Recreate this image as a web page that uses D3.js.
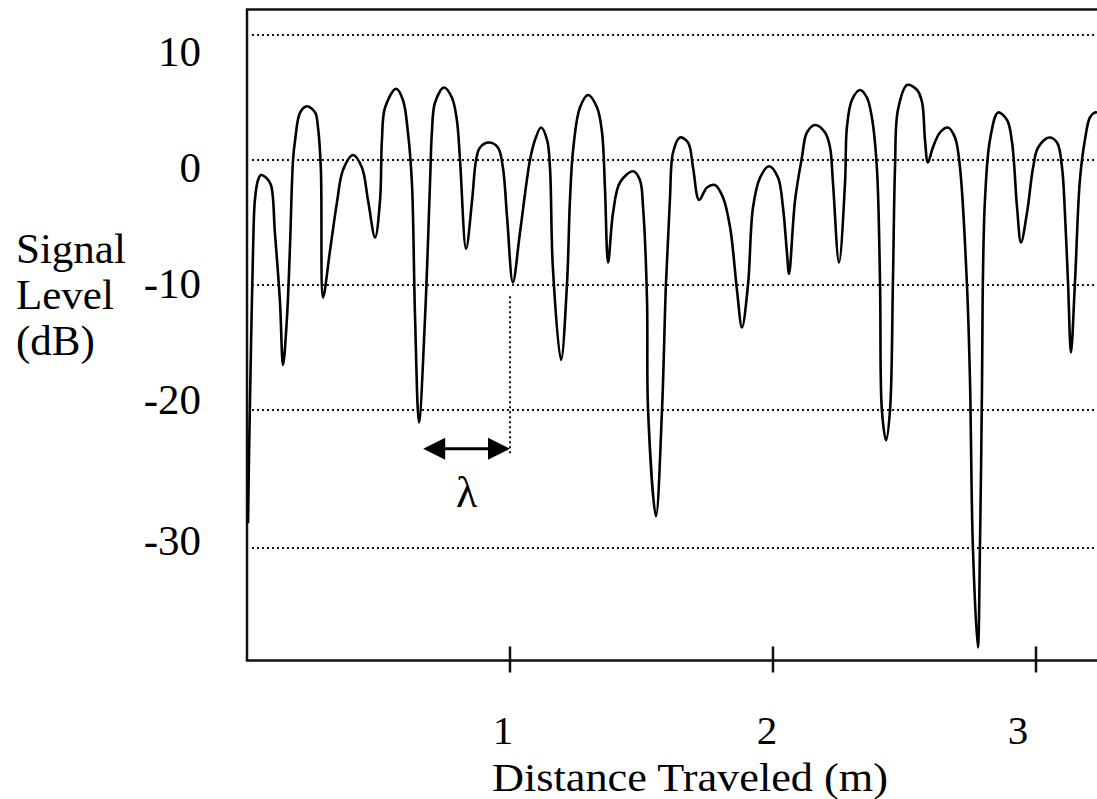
<!DOCTYPE html>
<html>
<head>
<meta charset="utf-8">
<script src="https://cdn.jsdelivr.net/npm/d3@7"></script>
<style>
  html, body { margin: 0; padding: 0; background: #fff; }
  svg { display: block; }
  text { font-family: "Liberation Serif", "Times New Roman", serif; fill: #000; }
</style>
</head>
<body>
<svg id="chart" width="1097" height="799"></svg>
<script>
// ---- data ----
const distance = [0.004,0.008,0.015,0.023,0.030,0.042,0.053,0.072,0.091,0.106,0.125,0.137,0.152,0.163,0.175,0.183,0.202,0.228,0.259,0.270,0.281,0.289,0.316,0.342,0.365,0.403,0.437,0.460,0.487,0.506,0.513,0.525,0.567,0.593,0.612,0.627,0.639,0.654,0.677,0.696,0.703,0.715,0.749,0.779,0.798,0.810,0.833,0.856,0.871,0.886,0.920,0.954,0.973,0.989,1.011,1.038,1.076,1.095,1.118,1.141,1.152,1.163,1.194,1.217,1.228,1.240,1.266,1.297,1.331,1.350,1.361,1.373,1.392,1.418,1.468,1.494,1.506,1.521,1.525,1.555,1.578,1.593,1.608,1.620,1.646,1.677,1.696,1.719,1.749,1.779,1.810,1.837,1.863,1.882,1.905,1.924,1.951,1.985,2.019,2.038,2.053,2.061,2.084,2.110,2.129,2.160,2.198,2.217,2.228,2.251,2.274,2.281,2.300,2.331,2.357,2.376,2.395,2.407,2.414,2.430,2.445,2.456,2.464,2.475,2.510,2.548,2.567,2.578,2.589,2.608,2.635,2.665,2.692,2.711,2.738,2.749,2.760,2.779,2.787,2.795,2.798,2.806,2.825,2.856,2.890,2.909,2.928,2.943,2.966,2.989,3.008,3.049,3.080,3.099,3.110,3.122,3.133,3.148,3.167,3.186,3.205,3.224,3.232];
const levelDb = [-28.2,-22.9,-15.2,-7.2,-3.2,-1.6,-1.2,-1.4,-2.0,-5.8,-11.2,-16.4,-12.6,-7.2,0,1.6,3.8,4.3,3.8,2.6,-0.8,-11.0,-7.2,-3.4,-0.8,0.4,-0.6,-3.2,-6.2,-3.2,1.6,4.2,5.7,4.8,2.2,-1.8,-12.6,-20.9,-12.6,-1.8,2.2,4.6,5.8,5.0,3.2,0,-7.1,-3.2,0,1.0,1.4,1.0,-0.6,-4.6,-9.8,-5.8,0,1.6,2.6,1.6,-0.6,-8.6,-16.0,-9.8,-3.2,0.8,4.2,5.2,4.2,2.2,-2.2,-8.2,-4.2,-1.8,-0.9,-1.6,-3.8,-11.2,-20.0,-27.7,-20.0,-9.9,-3.2,0.6,1.8,1.4,-0.6,-3.2,-2.2,-2.0,-3.0,-5.4,-10.4,-13.4,-10.0,-3.8,-1.4,-0.5,-1.4,-3.8,-7.4,-9.1,-3.2,0.2,2.2,2.8,2.2,1.0,-1.8,-8.2,-1.8,2.6,4.8,5.6,5.0,3.4,-0.6,-9.8,-20.0,-22.2,-20.0,-9.8,-0.6,4.0,6.0,5.6,4.6,1.6,-0.2,1.0,2.2,2.6,1.8,-0.6,-10.2,-17.6,-29.9,-37.2,-29.9,-17.6,-9.8,-3.2,1.6,3.8,3.2,1.4,-3.8,-6.6,-4.2,-0.6,1.0,1.8,1.4,-0.6,-4.2,-9.9,-15.4,-9.9,-1.6,1.6,3.4,3.8,3.8];

const yTicks = [10, 0, -10, -20, -30];
const xTicks = [1, 2, 3];
const yTitleLines = ["Signal", "Level", "(dB)"];
const xTitle = "Distance Traveled (m)";
const lambdaLabel = "λ";
const lambdaStart = 0.67;   // m
const lambdaEnd = 1.0;      // m
const lambdaLevel = -22.8;  // dB
const markerTop = -10.9;    // dB (dotted marker below the dip at 1 m)
const markerBottom = -23.3; // dB

(function () {
// ---- scales ----
const svg = d3.select("#chart");
const x = d3.scaleLinear().domain([0, 3.232]).range([247, 1097]);
// the printed grid is slightly uneven: piecewise linear
const y = d3.scaleLinear().domain([10, -20, -30]).range([35, 410, 548]);
const yLabelPos = d3.scaleLinear().domain([10, -20, -30]).range([66, 414, 555]);
const xLabelPos = d3.scaleLinear().domain([1, 2, 3]).range([503, 767, 1018]);

const yTop = 12.04, yBottom = -38.15;
const pLeft = x(0), pRight = x(3.232), pTop = y(yTop), pBottom = y(yBottom);

// clip
svg.append("defs").append("clipPath").attr("id", "plotclip")
  .append("rect").attr("x", pLeft).attr("y", pTop).attr("width", pRight - pLeft).attr("height", pBottom - pTop);

// gridlines
svg.append("g").selectAll("line").data(yTicks).join("line")
  .attr("x1", pLeft + 5).attr("x2", pRight)
  .attr("y1", d => y(d)).attr("y2", d => y(d))
  .attr("stroke", "#111").attr("stroke-width", 2)
  .attr("stroke-dasharray", "2,3");

// frame (left, top, bottom)
const frame = svg.append("g").attr("stroke", "#111").attr("stroke-width", 2.5).attr("fill", "none");
frame.append("path").attr("d", `M${pRight},${pTop}H${pLeft}V${pBottom}H${pRight}`);

// x ticks crossing the axis
svg.append("g").selectAll("line").data(xTicks).join("line")
  .attr("x1", d => x(d)).attr("x2", d => x(d))
  .attr("y1", pBottom - 14).attr("y2", pBottom + 12)
  .attr("stroke", "#111").attr("stroke-width", 2.5);

// signal curve
const line = d3.line()
  .x((d, i) => x(distance[i]))
  .y((d, i) => y(levelDb[i]))
  .curve(d3.curveCatmullRom.alpha(0.5));
svg.append("path")
  .attr("clip-path", "url(#plotclip)")
  .attr("d", line(levelDb))
  .attr("fill", "none").attr("stroke", "#000").attr("stroke-width", 2.6)
  .attr("stroke-linejoin", "round");

// dotted marker at 1 m
svg.append("line")
  .attr("x1", x(lambdaEnd)).attr("x2", x(lambdaEnd))
  .attr("y1", y(markerTop)).attr("y2", y(markerBottom))
  .attr("stroke", "#111").attr("stroke-width", 2).attr("stroke-dasharray", "2,3");

// lambda double arrow
const ay = y(lambdaLevel), ax0 = x(lambdaStart), ax1 = x(lambdaEnd);
const headL = 22, headH = 11;
svg.append("line").attr("x1", ax0 + 10).attr("x2", ax1 - 10).attr("y1", ay).attr("y2", ay)
  .attr("stroke", "#000").attr("stroke-width", 3);
svg.append("path").attr("d", `M${ax0},${ay}L${ax0 + headL},${ay - headH}L${ax0 + headL},${ay + headH}Z`).attr("fill", "#000");
svg.append("path").attr("d", `M${ax1},${ay}L${ax1 - headL},${ay - headH}L${ax1 - headL},${ay + headH}Z`).attr("fill", "#000");
svg.append("text").attr("x", (ax0 + ax1) / 2).attr("y", ay + 58)
  .attr("text-anchor", "middle").attr("font-size", 44).text(lambdaLabel);

// y tick labels
svg.append("g").selectAll("text").data(yTicks).join("text")
  .attr("x", 201).attr("y", d => yLabelPos(d))
  .attr("text-anchor", "end").attr("font-size", 43)
  .text(d => d);

// x tick labels
svg.append("g").selectAll("text").data(xTicks).join("text")
  .attr("x", d => xLabelPos(d)).attr("y", 744)
  .attr("text-anchor", "middle").attr("font-size", 41)
  .text(d => d);

// y title
svg.append("g").selectAll("text").data(yTitleLines).join("text")
  .attr("x", 16).attr("y", (d, i) => 263 + i * 46)
  .attr("font-size", 43)
  .text(d => d);

// x title
svg.append("text").attr("x", 492).attr("y", 791)
  .attr("font-size", 41)
  .attr("textLength", 396).attr("lengthAdjust", "spacingAndGlyphs")
  .text(xTitle);
})();
</script>
</body>
</html>
